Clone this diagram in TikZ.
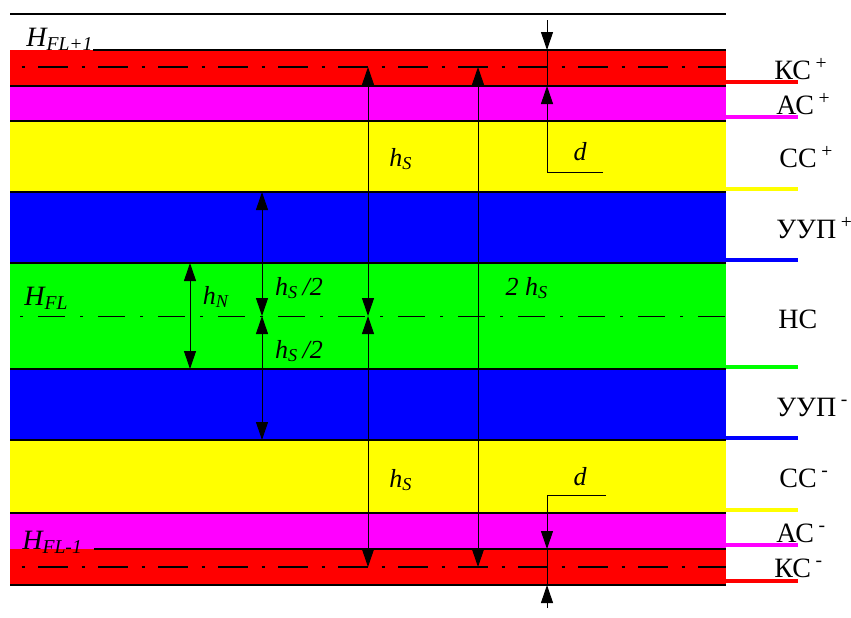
\documentclass[tikz,border=0pt]{standalone}
\usepackage{fontspec}
\setmainfont{Liberation Serif}
\usetikzlibrary{arrows.meta}
\definecolor{kcred}{RGB}{255,0,0}
\definecolor{acmag}{RGB}{255,0,255}
\definecolor{ccyel}{RGB}{255,255,0}
\definecolor{uupblue}{RGB}{0,0,255}
\definecolor{ncgreen}{RGB}{0,255,0}

\begin{document}
\begin{tikzpicture}[x=0.5pt,y=-0.5pt,
	dim/.style={line width=0.5pt,{Triangle[length=9pt,width=6pt]}-{Triangle[length=9pt,width=6pt]}},
	tip/.style={line width=0.5pt,-{Triangle[length=9pt,width=6pt]}},
	axisline/.style={line width=1.3pt,dash pattern=on 15pt off 6.75pt on 1.5pt off 6.75pt,dash phase=16pt},
	midline/.style={line width=0.5pt,dash pattern=on 13.5pt off 7.5pt on 1.5pt off 7.5pt,dash phase=16pt},
	layer/.style={font=\fontsize{14}{16}\selectfont,anchor=west,inner sep=0pt},
	sym/.style={font=\fontsize{13}{15}\selectfont\itshape,inner sep=0pt},
	level/.style={font=\fontsize{14}{16}\selectfont\itshape,anchor=west,inner sep=0pt}]
	\useasboundingbox (0,0) rectangle (851,617);
	\draw[line width=0.8pt] (10,14) -- (726,14);
	\foreach \ya/\yb/\col in {50/86/kcred,86/121/acmag,121/192/ccyel,192/263/uupblue,263/369/ncgreen,
		369/440/uupblue,440/513/ccyel,513/549/acmag,549/585/kcred}
		\fill[\col] (10,\ya) rectangle (726,\yb);
	\foreach \y in {86,121,192,263,369,440,513,585}
		\draw[line width=0.6pt] (10,\y) -- (726,\y);
	\draw[line width=0.6pt] (93,50) -- (726,50);
	\draw[line width=0.6pt] (94,549) -- (726,549);
	\foreach \y/\col in {82/kcred,117/acmag,189/ccyel,260/uupblue,367/ncgreen,438/uupblue,510/ccyel,545/acmag,581/kcred}
		\draw[\col,line width=1.6pt] (726,\y) -- (798,\y);
	\draw[axisline] (10,67) -- (726,67);
	\draw[axisline] (10,567) -- (726,567);
	\draw[midline] (10,316) -- (726,316);

	\coordinate (hsA) at (368,67);
	\coordinate (hsM) at (368,316);
	\coordinate (hsB) at (368,567);
	\coordinate (twoA) at (478,67);
	\coordinate (twoB) at (478,567);
	\coordinate (halfA) at (262,192);
	\coordinate (halfM) at (262,316);
	\coordinate (halfB) at (262,440);
	\coordinate (hnA) at (190,263);
	\coordinate (hnB) at (190,369);
	\coordinate (dTopOut) at (547,20);
	\coordinate (dTopA) at (547,50);
	\coordinate (dTopB) at (547,86);
	\coordinate (dTopEnd) at (547,172);
	\coordinate (dTopLead) at (603,172);
	\coordinate (dBotLead) at (606,495);
	\coordinate (dBotStart) at (547,495);
	\coordinate (dBotA) at (547,549);
	\coordinate (dBotB) at (547,585);
	\coordinate (dBotOut) at (547,608);

	\draw[dim] (hsA) -- (hsM);
	\draw[dim] (hsM) -- (hsB);
	\draw[dim] (twoA) -- (twoB);
	\draw[dim] (halfA) -- (halfM);
	\draw[dim] (halfM) -- (halfB);
	\draw[dim] (hnA) -- (hnB);
	\draw[tip] (dTopOut) -- (dTopA);
	\draw[line width=0.5pt] (dTopA) -- (dTopB);
	\draw[tip] (dTopLead) -- (dTopEnd) -- (dTopB);
	\draw[tip] (dBotLead) -- (dBotStart) -- (dBotA);
	\draw[line width=0.5pt] (dBotA) -- (dBotB);
	\draw[tip] (dBotOut) -- (dBotB);

	\node[level] (hflup) at (26,39) {H\textsubscript{FL+1}};
	\node[level] (hfl) at (24,298) {H\textsubscript{FL}};
	\node[level] (hfldown) at (22,542) {H\textsubscript{FL-1}};

	\node[sym] (hsup) at (401,159) {h\textsubscript{S}};
	\node[sym] (hsdown) at (401,480) {h\textsubscript{S}};
	\node[sym] (dup) at (580,152) {d};
	\node[sym] (ddown) at (580,477) {d};
	\node[sym] (twohs) at (527,288) {2 h\textsubscript{S}};
	\node[sym] (halfup) at (299,288) {h\textsubscript{S}\,/2};
	\node[sym] (halfdown) at (299,351) {h\textsubscript{S}\,/2};
	\node[sym] (hn) at (216,297) {h\textsubscript{N}};

	\node[layer] (kcp) at (774,69) {КС\,\textsuperscript{+}};
	\node[layer] (acp) at (776,104) {АС\,\textsuperscript{+}};
	\node[layer] (ccp) at (779,157) {СС\,\textsuperscript{+}};
	\node[layer] (uupp) at (776,228) {УУП\,\textsuperscript{+}};
	\node[layer] (nc) at (778,319) {НС};
	\node[layer] (uupm) at (776,407) {УУП\,\textsuperscript{-}};
	\node[layer] (ccm) at (779,478) {СС\,\textsuperscript{-}};
	\node[layer] (acm) at (776,533) {АС\,\textsuperscript{-}};
	\node[layer] (kcm) at (774,568) {КС\,\textsuperscript{-}};
\end{tikzpicture}
\end{document}
